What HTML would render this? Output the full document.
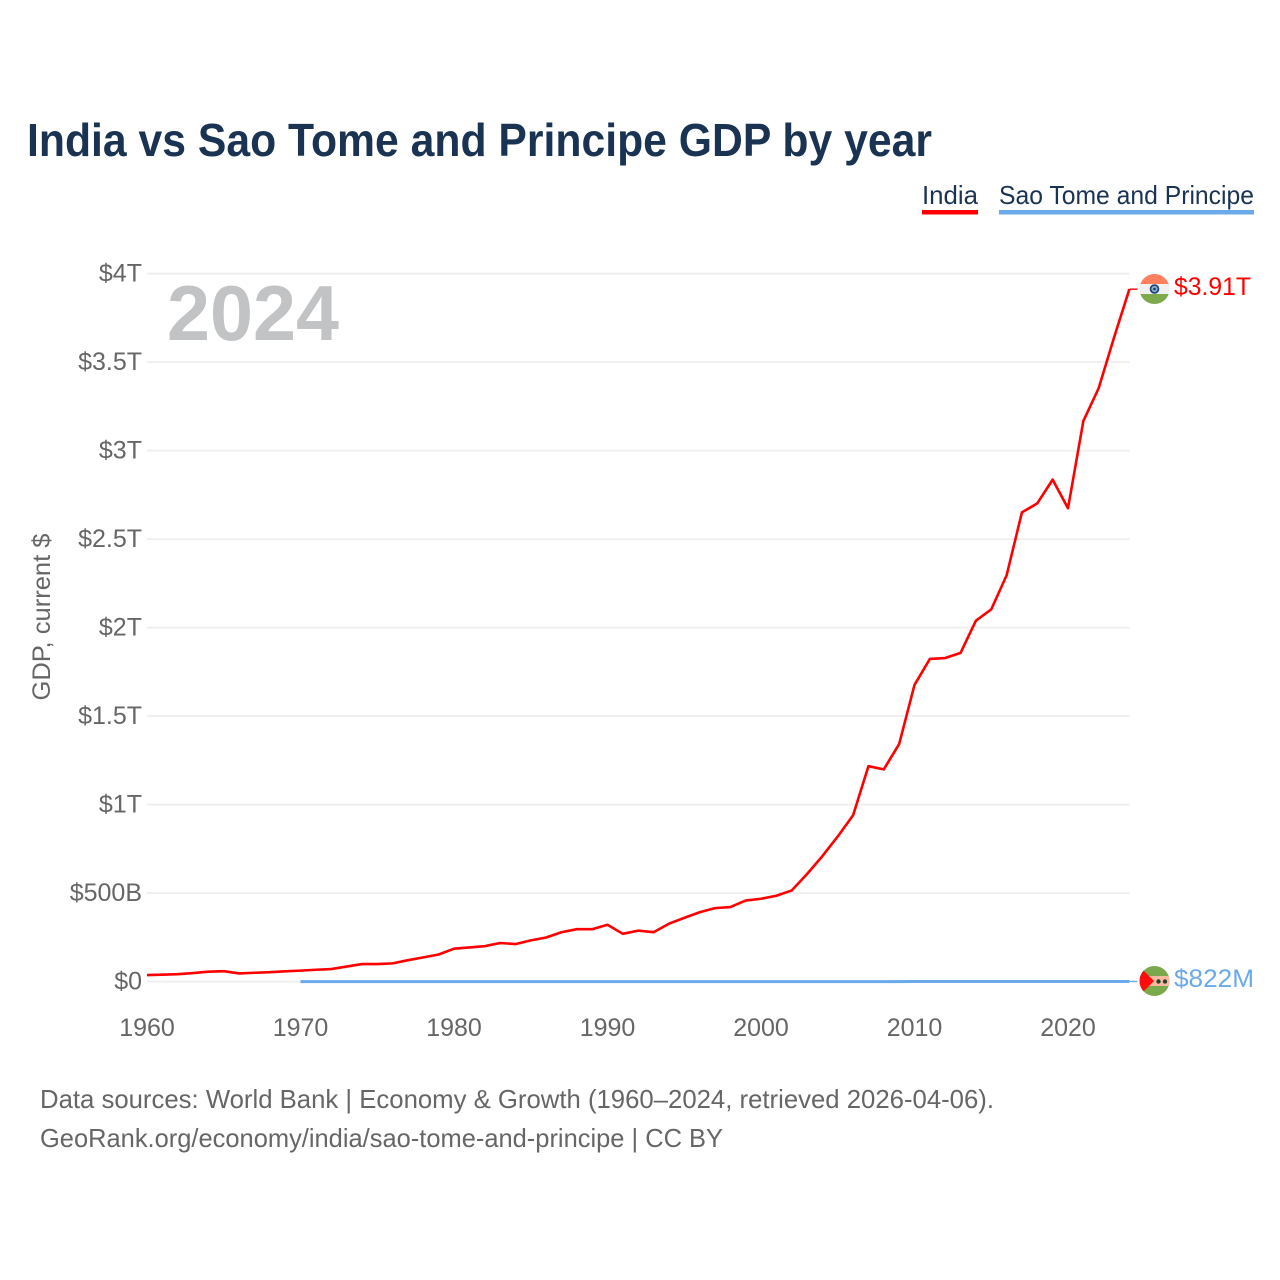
<!DOCTYPE html>
<html lang="en">
<head>
<meta charset="utf-8">
<title>India vs Sao Tome and Principe GDP by year</title>
<style>
html,body{margin:0;padding:0;background:#fff;width:1280px;height:1280px;overflow:hidden}
svg{display:block}
text{font-family:"Liberation Sans",sans-serif}
</style>
</head>
<body>
<svg id="chart" width="1280" height="1280" viewBox="0 0 1280 1280" xmlns="http://www.w3.org/2000/svg">
  <rect width="1280" height="1280" fill="#fff"/>
  <text x="27" y="156" font-size="46" font-weight="700" fill="#1a3353" textLength="905" lengthAdjust="spacingAndGlyphs">India vs Sao Tome and Principe GDP by year</text>
  <g>
    <g>
      <text x="922" y="204" font-size="26" fill="#1a3353" textLength="56" lengthAdjust="spacingAndGlyphs">India</text>
      <rect x="922" y="210" width="56" height="4.5" fill="#ff0000"/>
    </g>
    <g>
      <text x="999" y="204" font-size="26" fill="#1a3353" textLength="255" lengthAdjust="spacingAndGlyphs">Sao Tome and Principe</text>
      <rect x="999" y="210" width="255" height="4.5" fill="#6aa9ea"/>
    </g>
  </g>
  <g id="grid"></g>
  <g id="yticks"></g>
  <g id="xticks"></g>
  <text transform="translate(50,617) rotate(-90)" text-anchor="middle" font-size="25" fill="#666" textLength="167" lengthAdjust="spacingAndGlyphs">GDP, current $</text>
  <text x="167" y="340" font-size="78" font-weight="700" fill="#c2c3c5" textLength="172" lengthAdjust="spacingAndGlyphs">2024</text>
  <g id="series"></g>

  <g>
    <clipPath id="clipIn"><circle cx="1154.5" cy="289" r="15"/></clipPath>
    <g clip-path="url(#clipIn)">
      <rect x="1139" y="274" width="31" height="10" fill="#ff7f5f"/>
      <rect x="1139" y="284" width="31" height="10" fill="#f0f0f0"/>
      <rect x="1139" y="294" width="31" height="10" fill="#7daa4f"/>
    </g>
    <circle cx="1154.5" cy="289" r="4" fill="#8fa6c4" stroke="#123e78" stroke-width="1.6"/>
    <circle cx="1154.5" cy="289" r="1.3" fill="#123e78"/>
  </g>
  <text id="labelIndia" x="1174" y="295" font-size="25" fill="#ff0000" textLength="77" lengthAdjust="spacingAndGlyphs">$3.91T</text>

  <g>
    <clipPath id="clipSt"><circle cx="1154.5" cy="981" r="15"/></clipPath>
    <g clip-path="url(#clipSt)">
      <rect x="1139" y="966" width="31" height="30" fill="#7ba84a"/>
      <rect x="1139" y="976" width="31" height="10" fill="#f9b9a0"/>
      <polygon points="1139,966 1154,981 1139,996" fill="#ff0d0d"/>
    </g>
    <circle cx="1158.5" cy="981.5" r="2.2" fill="#26402c"/>
    <circle cx="1165" cy="981.5" r="2.2" fill="#26402c"/>
  </g>
  <text id="labelSt" x="1174" y="987" font-size="25" fill="#6aa9ea" textLength="80" lengthAdjust="spacingAndGlyphs">$822M</text>

  <g>
    <text x="40" y="1108" font-size="26" fill="#666" textLength="954" lengthAdjust="spacingAndGlyphs">Data sources: World Bank | Economy &amp; Growth (1960–2024, retrieved 2026-04-06).</text>
    <text x="40" y="1147" font-size="26" fill="#666" textLength="683" lengthAdjust="spacingAndGlyphs">GeoRank.org/economy/india/sao-tome-and-principe | CC BY</text>
  </g>
</svg>
<script>
// GDP in billions of current US$
const indiaYears = [1960,1961,1962,1963,1964,1965,1966,1967,1968,1969,1970,1971,1972,1973,1974,1975,1976,1977,1978,1979,1980,1981,1982,1983,1984,1985,1986,1987,1988,1989,1990,1991,1992,1993,1994,1995,1996,1997,1998,1999,2000,2001,2002,2003,2004,2005,2006,2007,2008,2009,2010,2011,2012,2013,2014,2015,2016,2017,2018,2019,2020,2021,2022,2023,2024];
const indiaGdp = [37,39,42,48,56,59,46,50,53,58,62,67,71,85,99,99,103,121,137,153,186,193,200,218,212,233,249,279,296,296,321,270,288,279,327,360,392,415,421,458,468,485,515,608,709,820,940,1217,1199,1342,1676,1823,1828,1857,2039,2103,2295,2651,2702,2836,2674,3167,3353,3639,3912];
const saoTomeYears = [1970,1975,1980,1985,1990,1995,2000,2005,2010,2013,2015,2018,2020,2022,2023,2024];
const saoTomeGdp = [0.02,0.03,0.05,0.05,0.06,0.05,0.08,0.13,0.2,0.31,0.32,0.41,0.47,0.55,0.68,0.822];
const yTickValues = [0,500,1000,1500,2000,2500,3000,3500,4000];
const yTickLabels = ["$0","$500B","$1T","$1.5T","$2T","$2.5T","$3T","$3.5T","$4T"];
const xTickYears = [1960,1970,1980,1990,2000,2010,2020];

const NS = "http://www.w3.org/2000/svg";
function xScale(year){ return 147 + (year - 1960) * 15.35; }
function yScale(v){ return 981.6 - v * 0.177; }
function make(tag, attrs, parent){
  const el = document.createElementNS(NS, tag);
  for (const k in attrs) el.setAttribute(k, attrs[k]);
  parent.appendChild(el);
  return el;
}
const grid = document.getElementById('grid');
const yticks = document.getElementById('yticks');
const xticks = document.getElementById('xticks');
const series = document.getElementById('series');

yTickValues.forEach(function(v, i){
  const line = make('line', {x1:147, x2:1129.5, y1:yScale(v), y2:yScale(v), stroke:'#eeeeee', 'stroke-width':1.8}, grid);
  
  
  const t = make('text', {x:142, y:yScale(v)+8, 'text-anchor':'end', 'font-size':25, fill:'#666'}, yticks);
  
  
  t.textContent = yTickLabels[i];
});
xTickYears.forEach(function(y){
  const t = make('text', {x:xScale(y), y:1036, 'text-anchor':'middle', 'font-size':25, fill:'#666'}, xticks);
  
  
  t.textContent = y;
});
function drawSeries(years, vals, color, width){
  const pts = years.map(function(y, i){ return xScale(y).toFixed(2) + ',' + yScale(vals[i]).toFixed(2); });
  return make('polyline', {points:pts.join(' '), fill:'none', stroke:color, 'stroke-width':width, 'stroke-linejoin':'round'}, series);
}
function drawConnector(years, vals, color){
  const lastX = xScale(years[years.length - 1]);
  const lastY = yScale(vals[vals.length - 1]);
  return make('line', {x1:lastX, x2:lastX + 8, y1:lastY, y2:lastY, stroke:color, 'stroke-width':1.4}, series);
}
const lineSt = drawSeries(saoTomeYears, saoTomeGdp, '#6aa9ea', 3);


const connSt = drawConnector(saoTomeYears, saoTomeGdp, '#6aa9ea');


const lineIn = drawSeries(indiaYears, indiaGdp, '#ff0000', 2.6);


const connIn = drawConnector(indiaYears, indiaGdp, '#ff0000');


</script>
</body>
</html>
